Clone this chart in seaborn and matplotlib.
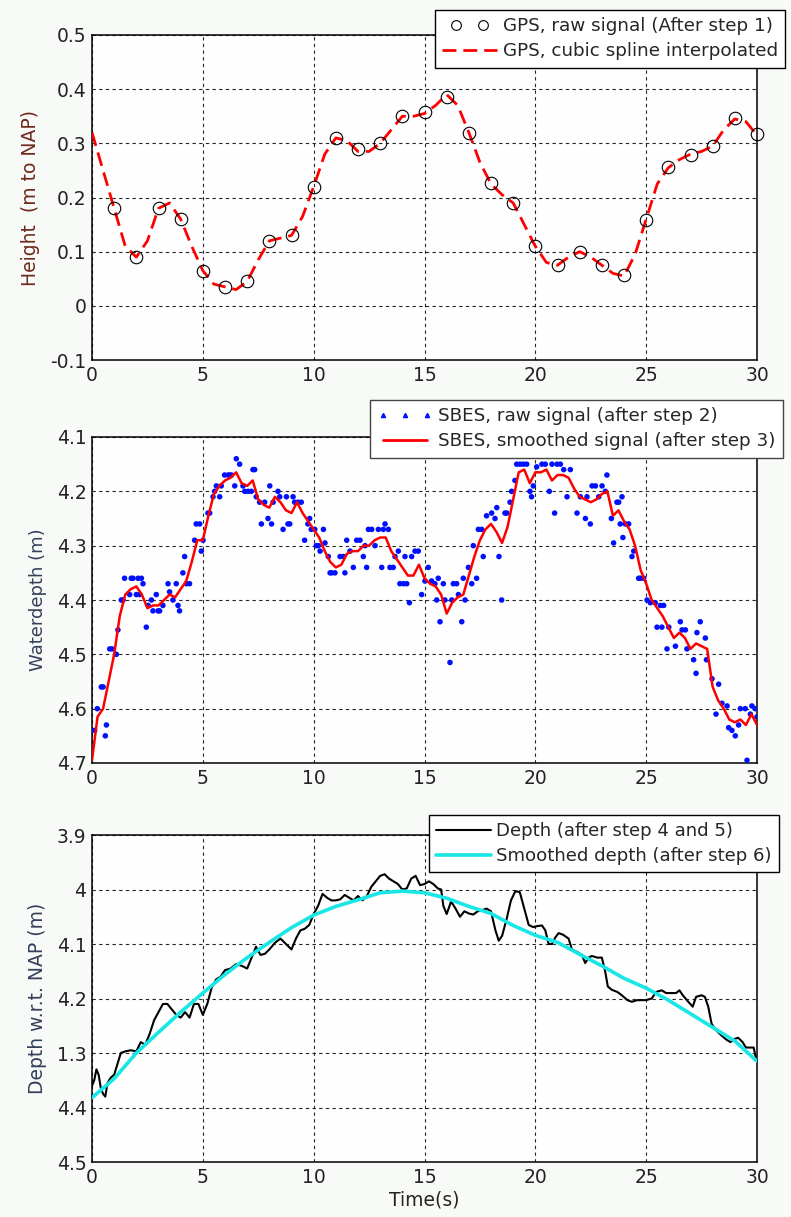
import numpy as np
import pandas as pd
import matplotlib
matplotlib.use("Agg")
import matplotlib.pyplot as plt
from matplotlib.lines import Line2D
from matplotlib.legend_handler import HandlerLine2D
import seaborn as sns

# ---------------- data ----------------
gps_t = [1, 2, 3, 4, 5, 6, 7, 8, 9, 10, 11, 12, 13, 14, 15, 16, 17, 18, 19, 20,
         21, 22, 23, 24, 25, 26, 27, 28, 29, 30]
gps_h = [0.18, 0.09, 0.18, 0.16, 0.065, 0.035, 0.045, 0.12, 0.13, 0.22, 0.31, 0.29,
         0.30, 0.35, 0.357, 0.386, 0.32, 0.226, 0.19, 0.11, 0.076, 0.10, 0.076, 0.057,
         0.159, 0.256, 0.279, 0.296, 0.347, 0.318]

spline_t = np.arange(0, 30.01, 0.5)
spline_h = [0.32, 0.25, 0.18, 0.11, 0.09, 0.12, 0.18, 0.19, 0.16, 0.11, 0.065, 0.04,
            0.035, 0.03, 0.045, 0.085, 0.12, 0.125, 0.13, 0.165, 0.22, 0.28, 0.31, 0.305,
            0.285, 0.285, 0.30, 0.325, 0.35, 0.35, 0.355, 0.37, 0.39, 0.37, 0.32, 0.265,
            0.225, 0.205, 0.19, 0.15, 0.11, 0.08, 0.075, 0.09, 0.10, 0.09, 0.075, 0.06,
            0.055, 0.095, 0.16, 0.225, 0.255, 0.27, 0.28, 0.285, 0.295, 0.325, 0.345,
            0.34, 0.315]

raw_t = [0.12, 0.24, 0.42, 0.50, 0.60, 0.65, 0.80, 0.90, 1.10, 1.17, 1.32, 1.40, 1.47,
         1.70, 1.77, 1.85, 2.00, 2.08, 2.15, 2.23, 2.30, 2.45, 2.53, 2.68, 2.75, 2.90,
         2.98, 3.05, 3.20, 3.43, 3.50, 3.65, 3.80, 3.88, 3.95, 4.10, 4.18, 4.26, 4.40,
         4.63, 4.70, 4.86, 4.93, 5.01, 5.23, 5.31, 5.46, 5.53, 5.61, 5.76, 5.83, 5.98,
         6.14, 6.21, 6.29, 6.44, 6.51, 6.66, 6.81, 6.89, 7.04, 7.19, 7.26, 7.34, 7.41,
         7.56, 7.64, 7.79, 7.94, 8.02, 8.10, 8.17, 8.39, 8.47, 8.62, 8.77, 8.84, 8.92,
         9.07, 9.14, 9.29, 9.44, 9.59, 9.74, 9.82, 9.89, 10.05, 10.12,
         10.21, 10.29, 10.44, 10.51, 10.66, 10.74, 10.81, 10.96, 11.19, 11.34, 11.41,
         11.49, 11.64, 11.79, 11.94, 12.09, 12.24, 12.32, 12.39, 12.47, 12.62, 12.77,
         12.92, 13.07, 13.14, 13.22, 13.37, 13.44, 13.59, 13.67, 13.82, 13.89, 14.05,
         14.12, 14.20, 14.32, 14.42, 14.57, 14.72, 14.87, 15.02, 15.17, 15.32, 15.47,
         15.55, 15.62, 15.70, 15.85, 15.92, 16.15, 16.23, 16.30, 16.45, 16.53, 16.68,
         16.75, 16.83, 16.98, 17.13, 17.20, 17.35, 17.43, 17.58, 17.65, 17.80, 18.03,
         18.18, 18.26, 18.36, 18.48, 18.63, 18.71, 18.86, 18.93, 19.08, 19.16, 19.31,
         19.46, 19.61, 19.76, 19.83, 19.91, 20.06,
         20.30, 20.45, 20.63, 20.75, 20.87, 20.98, 21.13, 21.28, 21.43, 21.58, 21.88,
         22.03, 22.26, 22.33, 22.48, 22.56, 22.71, 22.86, 23.01, 23.16, 23.23, 23.43,
         23.53, 23.68, 23.76, 23.83, 23.91, 23.95, 24.06, 24.21, 24.36, 24.44, 24.66,
         24.74, 24.89, 25.04, 25.19, 25.41, 25.49, 25.64, 25.71, 25.79, 25.94, 26.02,
         26.32, 26.54, 26.62, 26.77, 26.84, 27.14, 27.25, 27.29, 27.44, 27.67, 27.72,
         27.97, 28.15, 28.27, 28.42, 28.65, 28.72, 28.87, 29.02, 29.17, 29.25, 29.47,
         29.55, 29.70, 29.77, 29.92, 30.0]
raw_d = [4.64, 4.60, 4.56, 4.56, 4.65, 4.63, 4.49, 4.49, 4.50, 4.455, 4.40, 4.40, 4.36,
         4.39, 4.36, 4.36, 4.39, 4.36, 4.39, 4.36, 4.37, 4.45, 4.41, 4.40, 4.42, 4.39,
         4.42, 4.42, 4.41, 4.37, 4.385, 4.40, 4.37, 4.41, 4.42, 4.35, 4.32, 4.37, 4.37,
         4.29, 4.26, 4.26, 4.31, 4.29, 4.24, 4.24, 4.21, 4.20, 4.19, 4.21, 4.19, 4.17,
         4.17, 4.17, 4.17, 4.19, 4.14, 4.15, 4.19, 4.20, 4.20, 4.20, 4.16, 4.16, 4.21,
         4.22, 4.26, 4.22, 4.25, 4.19, 4.26, 4.22, 4.20, 4.21, 4.27, 4.21, 4.26, 4.26,
         4.21, 4.22, 4.22, 4.22, 4.29, 4.26, 4.25, 4.27, 4.27, 4.30,
         4.30, 4.31, 4.27, 4.295, 4.32, 4.35, 4.35, 4.35, 4.32, 4.32, 4.35,
         4.29, 4.31, 4.34, 4.29, 4.29, 4.32, 4.30, 4.34, 4.27, 4.27, 4.30,
         4.27, 4.34, 4.27, 4.26, 4.27, 4.34, 4.34, 4.32, 4.31, 4.37, 4.37,
         4.32, 4.37, 4.405, 4.32, 4.31, 4.31, 4.39, 4.365, 4.34, 4.365, 4.37,
         4.40, 4.36, 4.44, 4.37, 4.40, 4.515, 4.40, 4.37, 4.37, 4.39, 4.44,
         4.36, 4.40, 4.34, 4.37, 4.30, 4.36, 4.27, 4.27, 4.32, 4.245, 4.24,
         4.25, 4.23, 4.32, 4.40, 4.24, 4.24, 4.22, 4.20, 4.18, 4.15, 4.15,
         4.15, 4.15, 4.20, 4.21, 4.19, 4.155,
         4.15, 4.15, 4.20, 4.15, 4.24, 4.15, 4.15, 4.16, 4.21, 4.16, 4.24,
         4.21, 4.25, 4.21, 4.26, 4.19, 4.19, 4.21, 4.19, 4.20, 4.17, 4.25,
         4.295, 4.22, 4.22, 4.26, 4.21, 4.285, 4.26, 4.26, 4.32, 4.31, 4.36,
         4.36, 4.36, 4.40, 4.405, 4.405, 4.45, 4.41, 4.45, 4.41, 4.49, 4.45,
         4.485, 4.44, 4.455, 4.455, 4.49, 4.51, 4.535, 4.46, 4.44, 4.47, 4.51,
         4.545, 4.61, 4.555, 4.59, 4.595, 4.635, 4.64, 4.65, 4.63, 4.60, 4.60,
         4.695, 4.61, 4.595, 4.60, 4.615]

smooth_t = np.arange(0, 30.01, 0.25)
smooth_d = [4.695, 4.615, 4.60, 4.55, 4.50, 4.43, 4.39, 4.38, 4.375, 4.39, 4.415, 4.41,
            4.41, 4.40, 4.39, 4.395, 4.38, 4.365, 4.33, 4.29, 4.29, 4.245, 4.205, 4.19,
            4.18, 4.175, 4.165, 4.185, 4.19, 4.18, 4.215, 4.225, 4.23, 4.21, 4.22, 4.235,
            4.24, 4.22, 4.24, 4.255, 4.27,
            4.285, 4.31, 4.33, 4.34, 4.335, 4.315, 4.31, 4.31, 4.30, 4.30, 4.29, 4.285,
            4.285, 4.31, 4.325, 4.34, 4.355, 4.355, 4.335, 4.36, 4.37, 4.375, 4.39, 4.425,
            4.405, 4.395, 4.39, 4.355, 4.32, 4.29, 4.27, 4.26, 4.275, 4.295, 4.265, 4.215,
            4.165, 4.16, 4.185, 4.165,
            4.165, 4.16, 4.18, 4.17, 4.17, 4.175, 4.195, 4.21, 4.215, 4.22, 4.215, 4.205,
            4.20, 4.245, 4.235, 4.255, 4.27, 4.30, 4.345, 4.37, 4.40, 4.415, 4.43, 4.45,
            4.47, 4.46, 4.47, 4.49, 4.48, 4.485, 4.49, 4.56, 4.585, 4.60, 4.62, 4.625,
            4.62, 4.63, 4.61, 4.63]

depth_t = [0.0, 0.1, 0.2, 0.3, 0.4, 0.5, 0.6, 0.7, 0.85, 1.0, 1.15, 1.3, 1.5, 1.75, 2.0,
           2.2, 2.4, 2.6, 2.8, 3.0, 3.2, 3.4, 3.6, 3.8, 4.0, 4.2, 4.4, 4.6, 4.8, 5.0, 5.2,
           5.4, 5.6, 5.8, 6.0, 6.25, 6.5, 6.75, 7.0, 7.25, 7.4, 7.6, 7.8, 8.0, 8.25, 8.5,
           8.75, 9.0, 9.2, 9.4, 9.6, 9.8, 10.0, 10.2, 10.4, 10.6, 10.8, 11.0, 11.2, 11.4,
           11.6, 11.8, 12.0, 12.2, 12.4, 12.6, 12.8, 13.0, 13.2, 13.4, 13.6, 13.8, 14.0,
           14.2, 14.4, 14.6, 14.8, 15.0, 15.2, 15.4, 15.6, 15.75, 15.85, 16.0, 16.2, 16.4,
           16.6, 16.8, 17.0, 17.2, 17.4, 17.6, 17.8, 18.0, 18.2, 18.35, 18.5, 18.7, 18.9,
           19.1, 19.3, 19.5, 19.7, 19.9, 20.1, 20.3, 20.45, 20.6, 20.75, 20.9, 21.05,
           21.25, 21.5, 21.65, 21.9, 22.1, 22.25, 22.4, 22.55, 22.8, 23.0, 23.15, 23.27,
           23.45, 23.7, 23.9, 24.15, 24.35, 24.6, 24.8, 25.0, 25.25, 25.45, 25.7, 25.9,
           26.1, 26.35, 26.5, 26.65, 26.9, 27.1, 27.25, 27.5, 27.65, 27.8, 27.95, 28.1,
           28.35, 28.6, 28.8, 29.0, 29.15, 29.35, 29.5, 29.7, 29.85, 29.95, 30.0]
depth_v = [4.36, 4.35, 4.33, 4.34, 4.365, 4.375, 4.38, 4.355, 4.345, 4.34, 4.32, 4.30,
           4.297, 4.295, 4.297, 4.28, 4.285, 4.265, 4.24, 4.225, 4.21, 4.21, 4.22, 4.23,
           4.235, 4.225, 4.235, 4.21, 4.21, 4.23, 4.21, 4.18, 4.165, 4.16, 4.148, 4.145,
           4.137, 4.14, 4.145, 4.12, 4.105, 4.12, 4.118, 4.11, 4.098, 4.09, 4.10, 4.11,
           4.09, 4.075, 4.072, 4.065, 4.045, 4.03, 4.008, 4.015, 4.02, 4.02, 4.018, 4.01,
           4.015, 4.02, 4.012, 4.02, 4.012, 3.995, 3.985, 3.975, 3.972, 3.98, 3.985, 3.99,
           4.0, 3.998, 3.98, 3.975, 3.992, 3.99, 3.985, 3.99, 3.998, 4.0, 4.03, 4.045,
           4.022, 4.035, 4.05, 4.04, 4.044, 4.046, 4.04, 4.038, 4.035, 4.04, 4.075, 4.094,
           4.085, 4.055, 4.02, 4.003, 4.005, 4.035, 4.065, 4.069, 4.067, 4.066, 4.075,
           4.10, 4.10, 4.088, 4.08, 4.083, 4.09, 4.11, 4.115, 4.12, 4.135, 4.125, 4.122,
           4.125, 4.125, 4.15, 4.178, 4.184, 4.188, 4.194, 4.203, 4.206, 4.203, 4.203,
           4.203, 4.20, 4.188, 4.185, 4.19, 4.19, 4.19, 4.185, 4.194, 4.206, 4.215, 4.197,
           4.194, 4.197, 4.215, 4.246, 4.256, 4.266, 4.275, 4.28, 4.274, 4.272, 4.28,
           4.29, 4.29, 4.29, 4.31, 4.315]

sdepth_t = list(range(0, 31))
sdepth_v = [4.382, 4.347, 4.30, 4.262, 4.225, 4.19, 4.156, 4.125, 4.097, 4.07, 4.047,
            4.031, 4.019, 4.006, 4.003, 4.006, 4.016, 4.031, 4.044, 4.066, 4.084, 4.097,
            4.119, 4.14, 4.163, 4.181, 4.203, 4.228, 4.253, 4.278, 4.315]

x_ticks = [0, 5, 10, 15, 20, 25, 30]
top_yticks = [0.5, 0.4, 0.3, 0.2, 0.1, 0, -0.1]
top_ylabels = ["0.5", "0.4", "0.3", "0.2", "0.1", "0", "-0.1"]
mid_yticks = [4.1, 4.2, 4.3, 4.4, 4.5, 4.6, 4.7]
mid_ylabels = ["4.1", "4.2", "4.3", "4.4", "4.5", "4.6", "4.7"]
bot_yticks = [3.9, 4.0, 4.1, 4.2, 4.3, 4.4, 4.5]
bot_ylabels = ["3.9", "4", "4.1", "4.2", "1.3", "4.4", "4.5"]

# ---------------- style ----------------
sns.set_style("white")
plt.rcParams['font.family'] = ['DejaVu Sans']

W, H = 791, 1217
fig = plt.figure(figsize=(W / 100, H / 100), dpi=100, facecolor="#f8faf8")


def make_ax(top_px, bot_px):
    left, right = 92, 757
    return fig.add_axes([left / W, 1 - bot_px / H, (right - left) / W, (bot_px - top_px) / H])


ax1 = make_ax(35, 360)
ax2 = make_ax(437, 763)
ax3 = make_ax(835, 1162)

tick_col = "#222222"
for ax in (ax1, ax2, ax3):
    ax.set_facecolor("#fdfefd")
    for s in ax.spines.values():
        s.set_color("black")
        s.set_linewidth(1.1)
        s.set_visible(True)
    ax.grid(True, color="black", linestyle=(0, (3, 3)), linewidth=0.8, alpha=0.85)
    ax.set_axisbelow(True)
    ax.tick_params(direction="in", length=4, width=0.8, labelsize=13.5, colors=tick_col,
                   top=False, right=False, pad=4)
    ax.set_xlim(0, 30)
    ax.set_xticks(x_ticks)
    ax.set_xticklabels([str(v) for v in x_ticks])
    ax.set_xlabel("")

leg_kw = dict(frameon=True, fancybox=False, framealpha=1, handlelength=3.0,
              borderpad=0.4, labelspacing=0.38, handletextpad=0.3, borderaxespad=0)

# ---------------- top panel ----------------
sns.lineplot(x=spline_t, y=spline_h, ax=ax1, color="red", lw=2.0,
             linestyle=(0, (5, 2.5)), label="GPS, cubic spline interpolated", zorder=3)
ax1.plot(gps_t, gps_h, linestyle="none", marker="o", markersize=9, markerfacecolor="none",
         markeredgecolor="black", markeredgewidth=0.8, label="GPS, raw signal (After step 1)",
         zorder=4, clip_on=False)
ax1.set_ylim(-0.1, 0.5)
ax1.set_yticks(top_yticks)
ax1.set_yticklabels(top_ylabels)
ax1.set_ylabel("Height  (m to NAP)", fontsize=13.5, color="#6e2a1c", labelpad=7)
h, l = ax1.get_legend_handles_labels()
circ_handle = Line2D([], [], linestyle="none", marker="o", markersize=7,
                     markerfacecolor="none", markeredgecolor="black", markeredgewidth=0.8)
leg1 = ax1.legend([circ_handle, h[0]], [l[1], l[0]], loc="upper right",
                  bbox_to_anchor=(785 / W, 1 - 10 / H), bbox_transform=fig.transFigure,
                  fontsize=13.2, edgecolor="black",
                  handler_map={circ_handle: HandlerLine2D(numpoints=2, marker_pad=0.75)},
                  **leg_kw)
leg1.get_frame().set_linewidth(1.0)

# ---------------- middle panel ----------------
sns.scatterplot(x=raw_t, y=raw_d, ax=ax2, color="#0010ff", marker="o", s=16,
                edgecolor="none", label="SBES, raw signal (after step 2)", zorder=3)
sns.lineplot(x=smooth_t, y=smooth_d, ax=ax2, color="red", lw=1.8,
             label="SBES, smoothed signal (after step 3)", zorder=4)
ax2.set_ylim(4.7, 4.1)
ax2.set_yticks(mid_yticks)
ax2.set_yticklabels(mid_ylabels)
ax2.set_ylabel("Waterdepth (m)", fontsize=13, color="#34405a", labelpad=7)
hh = [Line2D([], [], linestyle="none", marker="^", markersize=3, color="#0010ff"),
      Line2D([], [], color="red", lw=2)]
leg2 = ax2.legend(hh, ["SBES, raw signal (after step 2)", "SBES, smoothed signal (after step 3)"],
                  loc="upper right", bbox_to_anchor=(783 / W, 1 - 400 / H),
                  bbox_transform=fig.transFigure, fontsize=13.2, edgecolor="#444444",
                  numpoints=3, **leg_kw)
leg2.get_frame().set_linewidth(1.0)

# ---------------- bottom panel ----------------
sns.lineplot(x=depth_t, y=depth_v, ax=ax3, color="black", lw=1.5, sort=False,
             estimator=None, label="Depth (after step 4 and 5)", zorder=3)
sns.lineplot(x=sdepth_t, y=sdepth_v, ax=ax3, color="#19e6e6", lw=2.6,
             label="Smoothed depth (after step 6)", zorder=4)
ax3.set_ylim(4.5, 3.9)
ax3.set_yticks(bot_yticks)
ax3.set_yticklabels(bot_ylabels)
ax3.set_ylabel("Depth w.r.t. NAP (m)", fontsize=13.5, color="#34405a", labelpad=7)
ax3.set_xlabel("Time(s)", fontsize=13.5, color="#2a2222", labelpad=3)
leg3 = ax3.legend(loc="upper right", bbox_to_anchor=(779 / W, 1 - 815 / H),
                  bbox_transform=fig.transFigure, fontsize=13.1, edgecolor="black", **leg_kw)
leg3.get_frame().set_linewidth(1.0)

fig.savefig("out.png", dpi=100, facecolor=fig.get_facecolor())
